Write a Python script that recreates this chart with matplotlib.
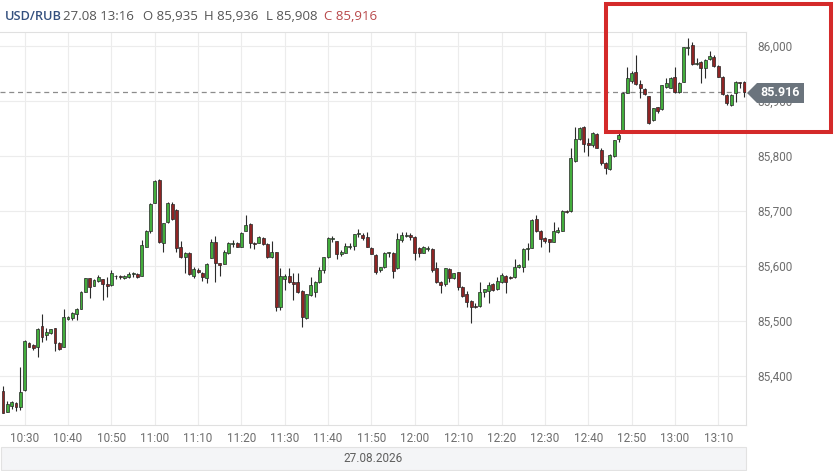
import numpy as np
import matplotlib
matplotlib.use("Agg")
import matplotlib.pyplot as plt
from matplotlib.patches import Rectangle, Polygon

# 1-minute candles USD/RUB, 10:25 .. 13:16
opens = [85.373, 85.335, 85.345, 85.351, 85.344, 85.375, 85.460, 85.456, 85.453, 85.491,
         85.475, 85.478, 85.487, 85.460, 85.453, 85.504, 85.505, 85.513, 85.522, 85.553,
         85.578, 85.564, 85.573, 85.576, 85.567, 85.565, 85.582, 85.582, 85.578, 85.580,
         85.585, 85.585, 85.582, 85.635, 85.664, 85.715, 85.756, 85.642, 85.680, 85.713,
         85.702, 85.635, 85.616, 85.624, 85.582, 85.593, 85.587, 85.578, 85.615, 85.644,
         85.605, 85.604, 85.624, 85.640, 85.642, 85.635, 85.664, 85.676, 85.642, 85.642,
         85.651, 85.640, 85.616, 85.625, 85.525, 85.576, 85.582, 85.571, 85.571, 85.555,
         85.505, 85.547, 85.553, 85.571, 85.593, 85.616, 85.649, 85.645, 85.622, 85.624,
         85.635, 85.636, 85.658, 85.656, 85.653, 85.633, 85.620, 85.593, 85.598, 85.624,
         85.624, 85.596, 85.647, 85.655, 85.656, 85.653, 85.633, 85.624, 85.631, 85.631,
         85.596, 85.571, 85.567, 85.595, 85.578, 85.589, 85.562, 85.549, 85.536, 85.527,
         85.527, 85.553, 85.555, 85.567, 85.558, 85.571, 85.582, 85.580, 85.580, 85.598,
         85.598, 85.631, 85.633, 85.685, 85.664, 85.651, 85.649, 85.644, 85.662, 85.664,
         85.700, 85.700, 85.791, 85.831, 85.853, 85.824, 85.820, 85.840, 85.811, 85.787,
         85.776, 85.800, 85.831, 85.844, 85.915, 85.936, 85.953, 85.931, 85.922, 85.909,
         85.865, 85.889, 85.885, 85.925, 85.924, 85.944, 85.916, 85.935, 85.996, 86.002,
         85.967, 85.971, 85.960, 85.976, 85.980, 85.964, 85.944, 85.911, 85.893, 85.915,
         85.934, 85.935]
highs = [85.382, 85.355, 85.354, 85.353, 85.416, 85.465, 85.461, 85.458, 85.487, 85.513,
         85.487, 85.486, 85.488, 85.461, 85.522, 85.509, 85.516, 85.523, 85.554, 85.579,
         85.579, 85.576, 85.584, 85.577, 85.580, 85.593, 85.583, 85.583, 85.583, 85.589,
         85.589, 85.587, 85.647, 85.665, 85.715, 85.756, 85.758, 85.679, 85.716, 85.716,
         85.703, 85.645, 85.625, 85.625, 85.598, 85.596, 85.589, 85.605, 85.649, 85.655,
         85.606, 85.629, 85.644, 85.647, 85.643, 85.661, 85.693, 85.678, 85.644, 85.654,
         85.652, 85.641, 85.645, 85.626, 85.596, 85.585, 85.596, 85.587, 85.587, 85.556,
         85.550, 85.580, 85.572, 85.598, 85.617, 85.652, 85.655, 85.646, 85.629, 85.642,
         85.642, 85.659, 85.667, 85.660, 85.662, 85.634, 85.621, 85.599, 85.625, 85.626,
         85.625, 85.660, 85.662, 85.662, 85.660, 85.654, 85.634, 85.636, 85.636, 85.632,
         85.607, 85.572, 85.597, 85.596, 85.588, 85.590, 85.563, 85.555, 85.538, 85.533,
         85.571, 85.559, 85.571, 85.569, 85.580, 85.587, 85.583, 85.581, 85.613, 85.603,
         85.632, 85.642, 85.685, 85.693, 85.665, 85.652, 85.650, 85.680, 85.671, 85.701,
         85.701, 85.815, 85.853, 85.853, 85.855, 85.833, 85.844, 85.841, 85.815, 85.789,
         85.803, 85.830, 85.845, 85.916, 85.962, 85.955, 85.984, 85.938, 85.923, 85.910,
         85.888, 85.890, 85.930, 85.942, 85.943, 85.962, 85.934, 85.999, 86.015, 86.007,
         85.978, 85.972, 85.976, 85.991, 85.984, 85.965, 85.945, 85.912, 85.912, 85.936,
         85.935, 85.936]
lows = [85.332, 85.334, 85.340, 85.336, 85.338, 85.373, 85.452, 85.447, 85.435, 85.462,
        85.465, 85.476, 85.445, 85.447, 85.452, 85.502, 85.502, 85.502, 85.521, 85.552,
        85.542, 85.563, 85.571, 85.538, 85.544, 85.564, 85.576, 85.576, 85.577, 85.578,
        85.580, 85.578, 85.581, 85.634, 85.660, 85.714, 85.642, 85.625, 85.679, 85.684,
        85.625, 85.615, 85.587, 85.584, 85.578, 85.587, 85.573, 85.569, 85.614, 85.571,
        85.582, 85.603, 85.622, 85.635, 85.634, 85.634, 85.663, 85.633, 85.631, 85.641,
        85.639, 85.615, 85.615, 85.518, 85.520, 85.556, 85.569, 85.538, 85.551, 85.489,
        85.504, 85.545, 85.544, 85.570, 85.587, 85.615, 85.644, 85.613, 85.618, 85.623,
        85.631, 85.629, 85.653, 85.647, 85.634, 85.621, 85.585, 85.589, 85.597, 85.616,
        85.578, 85.595, 85.644, 85.653, 85.647, 85.611, 85.616, 85.623, 85.627, 85.589,
        85.570, 85.551, 85.564, 85.571, 85.577, 85.556, 85.544, 85.525, 85.496, 85.524,
        85.526, 85.544, 85.533, 85.555, 85.556, 85.569, 85.551, 85.577, 85.579, 85.597,
        85.589, 85.611, 85.632, 85.662, 85.635, 85.642, 85.625, 85.643, 85.660, 85.663,
        85.697, 85.699, 85.789, 85.830, 85.807, 85.800, 85.816, 85.814, 85.784, 85.767,
        85.775, 85.799, 85.825, 85.843, 85.914, 85.933, 85.930, 85.905, 85.911, 85.858,
        85.863, 85.878, 85.884, 85.924, 85.923, 85.915, 85.915, 85.934, 85.984, 85.965,
        85.965, 85.933, 85.942, 85.975, 85.962, 85.943, 85.911, 85.893, 85.891, 85.898,
        85.924, 85.908]
closes = [85.333, 85.349, 85.353, 85.344, 85.371, 85.464, 85.453, 85.451, 85.485, 85.471,
          85.480, 85.485, 85.460, 85.449, 85.507, 85.507, 85.515, 85.522, 85.553, 85.578,
          85.562, 85.575, 85.580, 85.567, 85.564, 85.587, 85.581, 85.580, 85.582, 85.585,
          85.587, 85.580, 85.638, 85.664, 85.713, 85.755, 85.644, 85.678, 85.715, 85.685,
          85.633, 85.616, 85.624, 85.585, 85.595, 85.589, 85.580, 85.604, 85.644, 85.605,
          85.602, 85.625, 85.642, 85.642, 85.635, 85.660, 85.675, 85.642, 85.640, 85.653,
          85.640, 85.616, 85.625, 85.525, 85.582, 85.582, 85.571, 85.567, 85.553, 85.507,
          85.549, 85.565, 85.571, 85.593, 85.616, 85.651, 85.651, 85.622, 85.625, 85.636,
          85.636, 85.658, 85.660, 85.651, 85.635, 85.622, 85.589, 85.598, 85.624, 85.625,
          85.591, 85.649, 85.656, 85.656, 85.653, 85.624, 85.624, 85.635, 85.633, 85.593,
          85.571, 85.565, 85.596, 85.578, 85.587, 85.562, 85.545, 85.535, 85.525, 85.525,
          85.553, 85.558, 85.565, 85.556, 85.573, 85.584, 85.571, 85.578, 85.598, 85.602,
          85.631, 85.633, 85.684, 85.664, 85.649, 85.645, 85.644, 85.664, 85.665, 85.700,
          85.698, 85.796, 85.831, 85.851, 85.822, 85.820, 85.842, 85.815, 85.787, 85.778,
          85.802, 85.829, 85.838, 85.915, 85.942, 85.951, 85.931, 85.924, 85.913, 85.860,
          85.887, 85.882, 85.929, 85.933, 85.942, 85.916, 85.933, 85.998, 85.998, 85.967,
          85.969, 85.960, 85.975, 85.982, 85.964, 85.944, 85.913, 85.896, 85.911, 85.935,
          85.933, 85.916]

time_labels = ["10:30", "10:40", "10:50", "11:00", "11:10", "11:20", "11:30", "11:40", "11:50",
               "12:00", "12:10", "12:20", "12:30", "12:40", "12:50", "13:00", "13:10"]
price_ticks = [85.4, 85.5, 85.6, 85.7, 85.8, 85.9, 86.0]
last_price = 85.916
date_label = "27.08.2026"

plt.rcParams["font.family"] = ["Roboto", "DejaVu Sans"]

W, H = 835, 471


def fx(px):
    return px / W


def fy(py):
    return 1 - py / H


fig = plt.figure(figsize=(W / 100, H / 100), dpi=100)
ax = fig.add_axes([0, fy(425), fx(746), (425 - 32) / H])

o = np.array(opens)
hi = np.array(highs)
lo = np.array(lows)
c = np.array(closes)
x = np.arange(len(c))
up = c >= o

ax.vlines(x, lo, hi, color="#2b2b2b", lw=0.8, zorder=2)
body = np.maximum(np.abs(c - o), 0.0012)
ax.bar(x, body, bottom=np.minimum(o, c), width=0.68,
       color=np.where(up, "#42ad3c", "#8f2424"),
       edgecolor="#262626", linewidth=0.5, zorder=3)

ax.axhline(last_price, color="#8c8c8c", lw=0.9, ls=(0, (4, 3)), zorder=1)

ax.set_xlim(-0.69, 171.4)
ax.set_ylim(85.3109, 86.0255)
ax.set_xticks(5 + 10 * np.arange(len(time_labels)))
ax.set_xticklabels(time_labels)
ax.set_yticks(price_ticks)
ax.set_yticklabels([f"{v:.3f}".replace(".", ",") for v in price_ticks])
ax.yaxis.tick_right()
ax.tick_params(axis="both", length=0, labelsize=8.5, labelcolor="#6e6e6e")
ax.tick_params(axis="x", pad=5)
ax.tick_params(axis="y", pad=8)
ax.grid(color="#ececec", lw=0.8)
ax.set_axisbelow(True)
ax.spines["left"].set_visible(False)
for s in ("top", "right", "bottom"):
    ax.spines[s].set_color("#e0e0e0")

# date bar
fig.add_artist(Rectangle((fx(1), fy(470)), fx(745), (470 - 447) / H,
                         facecolor="#f4f5f7", edgecolor="#e2e2e2", lw=0.8,
                         transform=fig.transFigure))
fig.text(fx(373), fy(459), date_label, ha="center", va="center",
         fontsize=8.5, color="#5f5f5f")

# header
hdr_y = fy(17)
fig.text(fx(5), hdr_y, "USD/RUB", fontsize=9.2, color="#34507e", va="center",
         family="Open Sans", weight="semibold")
fig.text(fx(63), hdr_y, "27.08 13:16", fontsize=9.5, color="#555555", va="center",
         family="Open Sans")
fig.text(fx(143), hdr_y, "O 85,935", fontsize=9.5, color="#555555", va="center",
         family="Open Sans")
fig.text(fx(204), hdr_y, "H 85,936", fontsize=9.5, color="#555555", va="center",
         family="Open Sans")
fig.text(fx(266), hdr_y, "L 85,908", fontsize=9.5, color="#555555", va="center",
         family="Open Sans")
fig.text(fx(324), hdr_y, "C 85,916", fontsize=9.5, color="#b8484a", va="center",
         family="Open Sans")

# last price tag (covers the 85,900 label as in the original)
tag = [(747, 93), (757, 83), (804, 83), (804, 103), (757, 103)]
fig.add_artist(Polygon([(fx(a), fy(b)) for a, b in tag], closed=True,
                       facecolor="#6b747d", edgecolor="none",
                       transform=fig.transFigure, zorder=5))
fig.text(fx(780.5), fy(93), f"{last_price:.3f}", ha="center", va="center",
         fontsize=9, color="white", weight="bold", zorder=6)

# highlight box
fig.add_artist(Rectangle((fx(606), fy(132)), fx(831 - 606), (132 - 4) / H,
                         fill=False, edgecolor="#d42a2a", lw=2.9,
                         transform=fig.transFigure, zorder=7))

fig.savefig("out.png", dpi=100)
